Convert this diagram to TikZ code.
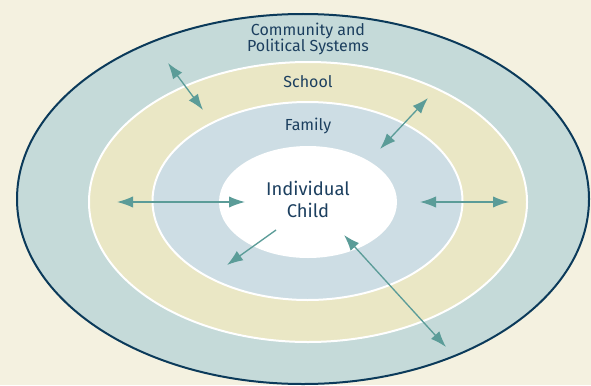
\documentclass[tikz,border=0pt]{standalone}
\usepackage{fontspec}
\setmainfont{Fira Sans}
\usetikzlibrary{arrows.meta}

\definecolor{bgcream}{HTML}{F4F1E0}
\definecolor{ringcommunity}{HTML}{C5DAD9}
\definecolor{ringschool}{HTML}{EAE7C5}
\definecolor{ringfamily}{HTML}{CDDDE4}
\definecolor{navyline}{HTML}{0B3A5A}
\definecolor{labelnavy}{HTML}{1C3F5F}
\definecolor{arrowteal}{HTML}{5B9C98}

\tikzset{every picture/.style={line width=0.75pt}}

\begin{document}
\begin{tikzpicture}[x=0.75pt,y=0.75pt,yscale=-1,xscale=1,
    ringtext/.style={text=labelnavy, align=center, font=\fontsize{12}{12}\selectfont},
    childtext/.style={text=labelnavy, align=center, font=\fontsize{13.8}{16.5}\selectfont},
    twoway/.style={draw=arrowteal, line width=1pt, {Latex[length=12pt,width=8.5pt]}-{Latex[length=12pt,width=8.5pt]}},
    oneway/.style={draw=arrowteal, line width=1pt, -{Latex[length=12pt,width=8.5pt]}}]
        %set diagram to the size of the reference
        \fill[bgcream] (0,0) rectangle (591,385);
        \useasboundingbox (0,0) rectangle (591,385);

        %Shape: Ellipse [community]
        \filldraw[fill=ringcommunity, draw=navyline, line width=1.5pt] (303,199) ellipse [x radius=214.5pt, y radius=138.75pt];
        %Shape: Ellipse [school]
        \filldraw[fill=ringschool, draw=white, line width=1.5pt] (308,202) ellipse [x radius=164.25pt, y radius=105pt];
        %Shape: Ellipse [family]
        \filldraw[fill=ringfamily, draw=white, line width=1.5pt] (307.5,201) ellipse [x radius=116.25pt, y radius=74.25pt];
        %Shape: Ellipse [child]
        \fill[white] (308,202) ellipse [x radius=66.75pt, y radius=42pt];

        %Labels
        \node[ringtext] (community) at (308,39) {Community and\\Political Systems};
        \node[ringtext] (school) at (308,82) {School};
        \node[ringtext] (family) at (308,126) {Family};
        \node[childtext] (child) at (308,199) {Individual\\Child};

        %Arrow ends
        \coordinate (a1) at (168,63);
        \coordinate (b1) at (203,110);
        \coordinate (a2) at (428,98);
        \coordinate (b2) at (380,149);
        \coordinate (a3) at (117,202);
        \coordinate (b3) at (245,202);
        \coordinate (a4) at (276,230);
        \coordinate (b4) at (227,265);
        \coordinate (a5) at (420,202);
        \coordinate (b5) at (509,202);
        \coordinate (a6) at (344,235);
        \coordinate (b6) at (446,347);

        %Arrows
        \draw[twoway] (a1) -- (b1);
        \draw[twoway] (a2) -- (b2);
        \draw[twoway] (a3) -- (b3);
        \draw[oneway] (a4) -- (b4);
        \draw[twoway] (a5) -- (b5);
        \draw[twoway] (a6) -- (b6);
\end{tikzpicture}
\end{document}
